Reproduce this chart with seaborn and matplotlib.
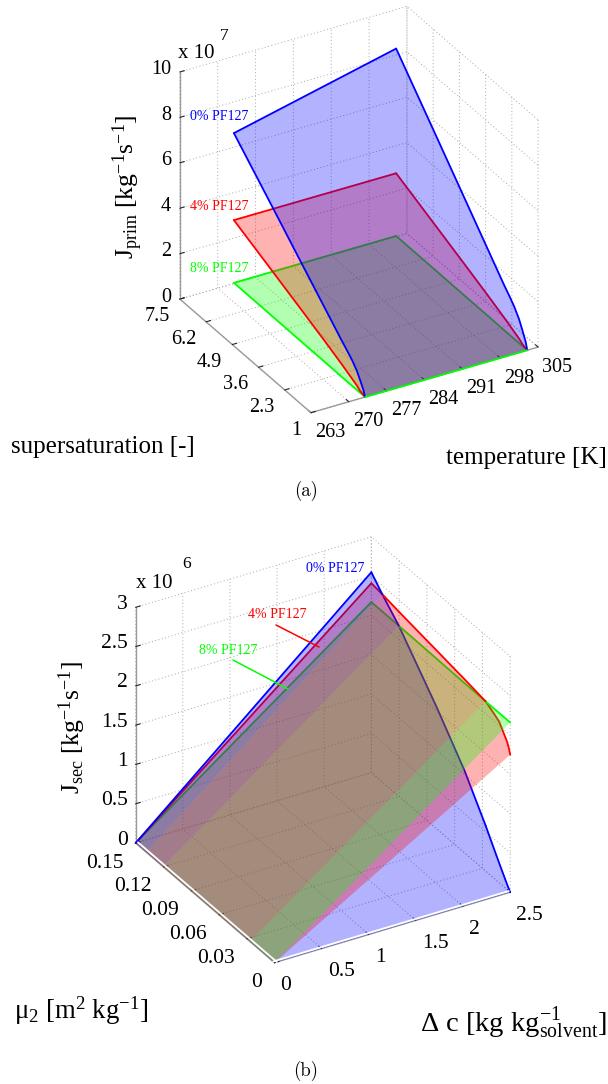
import matplotlib
matplotlib.use("Agg")
import matplotlib.pyplot as plt
import numpy as np
import seaborn as sns
from matplotlib.lines import Line2D
from mpl_toolkits.mplot3d import proj3d
from mpl_toolkits.mplot3d.art3d import Poly3DCollection

sns.set_theme(style="white")
plt.rcParams["font.family"] = ["Liberation Serif", "DejaVu Serif"]
plt.rcParams["mathtext.fontset"] = "custom"
plt.rcParams["mathtext.rm"] = "Liberation Serif"
plt.rcParams["mathtext.it"] = "Liberation Serif"
plt.rcParams["mathtext.bf"] = "Liberation Serif"
plt.rcParams["text.color"] = "black"

W, H = 608, 1084

# panel (a): primary nucleation, J in units of 1e7
temp_ends = [273, 303]
supersat = [1, 1.08, 1.24, 1.41, 1.66, 1.91, 2.16, 3.05, 4.05, 5.5, 7.5]
blue_273 = [0, 0.25, 0.55, 0.85, 1.15, 1.38, 1.60, 2.44, 3.38, 4.75, 6.62]
blue_303 = [0, 0.31, 0.69, 1.06, 1.44, 1.73, 2.00, 3.05, 4.23, 5.94, 8.28]
red_prim = [0, 0.03, 0.08, 0.20, 0.32, 0.44, 0.56, 0.95, 1.37, 1.97, 2.79]
green_prim = [0, 0, 0, 0, 0, 0, 0, 0.01, 0.01, 0.02, 0.03]
temp_ticks = [263, 270, 277, 284, 291, 298, 305]
ss_ticks = [1, 2.3, 3.6, 4.9, 6.2, 7.5]
jprim_ticks = [0, 2, 4, 6, 8, 10]

# panel (b): secondary nucleation, J at dc = 2.5 in units of 1e6
dc_ends = [0, 2.5]
mu2 = [0, 0.0015, 0.0033, 0.0119, 0.0195, 0.0266, 0.0495, 0.0795, 0.1203, 0.1383, 0.15]
blue_sec = [0, 0.03, 0.065, 0.25, 0.42, 0.58, 1.05, 1.55, 2.17, 2.39, 2.55]
red_sec = [1.75, 1.82, 1.88, 2.05, 2.11, 2.16, 2.21, 2.27, 2.35, 2.39, 2.41]
green_sec = [2.16, 2.16, 2.16, 2.16, 2.16, 2.16, 2.16, 2.165, 2.17, 2.17, 2.17]
dc_ticks = [0, 0.5, 1, 1.5, 2, 2.5]
mu_ticks = [0, 0.03, 0.06, 0.09, 0.12, 0.15]
jsec_ticks = [0, 0.5, 1, 1.5, 2, 2.5, 3]

BLUE, RED, GREEN = "#0000ff", "#ff0000", "#00ff00"
GREY = "#9a9a9a"
FILL_ALPHA = 0.3


def make_axes(fig, left, top, side, elev, azim):
    # position in pixels of the reference, y measured from the top
    ax = fig.add_axes([left / W, 1 - (top + side) / H, side / W, side / H],
                      projection="3d", proj_type="ortho", computed_zorder=False)
    ax.set_box_aspect((1, 1, 1))
    ax.view_init(elev=elev, azim=azim)
    ax.patch.set_alpha(0)
    for axis in (ax.xaxis, ax.yaxis, ax.zaxis):
        axis.set_pane_color((1, 1, 1, 0))
        axis.line.set_color(GREY)
        axis.line.set_linewidth(1.0)
        axis._axinfo["grid"].update(color="#a8a8a8", linewidth=0.7, linestyle=(0, (1, 2.5)))
        axis._axinfo["tick"]["color"] = GREY
        axis._axinfo["tick"]["inward_factor"] = 0
        axis._axinfo["tick"]["outward_factor"] = 0.25
        axis._axinfo["tick"]["linewidth"] = {True: 0.8, False: 0.5}
    return ax


def tick_text(ax, x, y, z, s, offset, ha, size):
    # mplot3d only offers a pad along the tick, so the labels sit at a pixel offset from it
    px, py, _ = proj3d.proj_transform(x, y, z, ax.get_proj())
    ax.annotate(s, xy=(px, py), xytext=offset, textcoords="offset pixels", ha=ha, va="center",
                fontsize=size, color="black", annotation_clip=False)


def set_ticks(ax, xt, yt, zt, size, x_off, y_off, z_off):
    ax.set_xticks(xt)
    ax.set_yticks(yt)
    ax.set_zticks(zt)
    ax.set_xticklabels([])
    ax.set_yticklabels([])
    ax.set_zticklabels([])
    x0, y0, z0 = ax.get_xlim()[0], ax.get_ylim()[0], ax.get_zlim()[0]
    y1 = ax.get_ylim()[1]
    for v in xt:
        tick_text(ax, v, y0, z0, str(v), x_off, "left", size)
    for v in yt:
        tick_text(ax, x0, v, z0, str(v), y_off, "right", size)
    for v in zt:
        tick_text(ax, x0, y1, v, str(v), z_off, "right", size)


def add_fill(ax, verts, color, zorder):
    poly = Poly3DCollection([verts], facecolor=color, edgecolor="none", alpha=FILL_ALPHA, zorder=zorder)
    ax.add_collection3d(poly, autolim=False)


def add_text(fig, x, y, s, **kw):
    kw.setdefault("va", "center")
    fig.text(x / W, 1 - y / H, s, **kw)


def add_leader(fig, x0, y0, x1, y1, color):
    fig.add_artist(Line2D([x0 / W, x1 / W], [1 - y0 / H, 1 - y1 / H], color=color, lw=1.1,
                          transform=fig.transFigure, zorder=8))


fig = plt.figure(figsize=(W / 100, H / 100), dpi=100, facecolor="white")

# ---- panel (a)
ax_a = make_axes(fig, 132.5, -5, 441, 30, 240)
ax_a.set_xlim(263, 305)
ax_a.set_ylim(1, 7.5)
ax_a.set_zlim(0, 10)
set_ticks(ax_a, temp_ticks, ss_ticks, jprim_ticks, 14.5, (4, -20), (-10, -17.5), (-8.6, 2))

surfaces_a = [(green_prim, green_prim, GREEN, 1), (red_prim, red_prim, RED, 2), (blue_273, blue_303, BLUE, 3)]
for z_left, z_right, col, rank in surfaces_a:
    verts = [(temp_ends[0], s, z) for s, z in zip(supersat, z_left)]
    verts += [(temp_ends[1], s, z) for s, z in zip(supersat[::-1], z_right[::-1])]
    add_fill(ax_a, verts, col, rank)
    line_kw = dict(color=col, lw=1.3, zorder=rank + 0.5)
    ax_a.plot([temp_ends[0]] * len(supersat), supersat, z_left, **line_kw)
    ax_a.plot([temp_ends[1]] * len(supersat), supersat, z_right, **line_kw)
    ax_a.plot(temp_ends, [supersat[-1]] * 2, [z_left[-1], z_right[-1]], **line_kw)
ax_a.plot(temp_ends, [supersat[0]] * 2, [0, 0], color=GREEN, lw=1.3, zorder=5)

add_text(fig, 178, 53, "x 10", fontsize=15)
add_text(fig, 220, 36, "7", fontsize=12.5)
add_text(fig, 128, 187, r"J$_{\mathrm{prim}}$ [kg$^{-1}$s$^{-1}$]", fontsize=18.5, rotation=90, ha="center")
add_text(fig, 11, 447, "supersaturation [-]", fontsize=18, ha="left")
add_text(fig, 607, 458, "temperature [K]", fontsize=18, ha="right")
add_text(fig, 219, 117, "0% PF127", fontsize=10, color=BLUE, ha="center")
add_text(fig, 219, 206, "4% PF127", fontsize=10, color=RED, ha="center")
add_text(fig, 219, 268, "8% PF127", fontsize=10, color=GREEN, ha="center")
add_text(fig, 306, 491, "(a)", fontsize=13.5, family="cmr10", ha="center")

# ---- panel (b)
ax_b = make_axes(fig, 86.7, 526, 460, 30.5, 239.5)
ax_b.set_xlim(0, 2.5)
ax_b.set_ylim(0, 0.15)
ax_b.set_zlim(0, 3)
set_ticks(ax_b, dc_ticks, mu_ticks, jsec_ticks, 15.5, (6, -23), (-12, -20), (-8, 3))

# the surfaces cross each other, so each stretch in mu is stacked by its height
series_b = [(blue_sec, BLUE), (red_sec, RED), (green_sec, GREEN)]
strip_ranks = []
for i in range(len(mu2) - 1):
    heights = [vals[i] + vals[i + 1] for vals, _ in series_b]
    strip_ranks.append(tuple(int(r) + 1 for r in np.argsort(np.argsort(heights))))

start = 0
for i in range(len(strip_ranks)):
    if i + 1 < len(strip_ranks) and strip_ranks[i + 1] == strip_ranks[start]:
        continue
    for k, (vals, col) in enumerate(series_b):
        rank = strip_ranks[start][k]
        verts = [(dc_ends[0], mu2[start], 0)]
        verts += [(dc_ends[1], mu2[j], vals[j]) for j in range(start, i + 2)]
        verts += [(dc_ends[0], mu2[i + 1], 0)]
        add_fill(ax_b, verts, col, rank)
        ax_b.plot([dc_ends[1]] * (i + 2 - start), mu2[start:i + 2], vals[start:i + 2],
                  color=col, lw=1.3, zorder=rank + 0.5)
    start = i + 1

for k, (vals, col) in enumerate(series_b):
    ax_b.plot(dc_ends, [mu2[-1]] * 2, [0, vals[-1]], color=col, lw=1.3, zorder=strip_ranks[-1][k] + 0.5)
ax_b.plot(dc_ends, [0.0015, 0.0015], [0, 0], color="white", lw=1.3, zorder=6)
ax_b.plot([0.025, 0.025], [0, 0.15], [0, 0], color="white", lw=1.3, zorder=6)

add_text(fig, 136, 583, "x 10", fontsize=15)
add_text(fig, 182, 564, "6", fontsize=12.5)
add_text(fig, 72, 727, r"J$_{\mathrm{sec}}$ [kg$^{-1}$s$^{-1}$]", fontsize=18.5, rotation=90, ha="center")
add_text(fig, 14, 1011, r"μ$_{2}$ [m$^{2}$ kg$^{-1}$]", fontsize=19.3, ha="left")
add_text(fig, 607, 1024, r"$\Delta$ c [kg kg$_{\mathrm{solvent}}^{-1}$]", fontsize=20.5, ha="right")
add_text(fig, 335, 568, "0% PF127", fontsize=10, color=BLUE, ha="center")
add_text(fig, 277, 615, "4% PF127", fontsize=10, color=RED, ha="center")
add_text(fig, 228, 650, "8% PF127", fontsize=10, color=GREEN, ha="center")
add_leader(fig, 276, 625, 319, 647, RED)
add_leader(fig, 233, 660, 288, 689, GREEN)
add_text(fig, 306, 1071, "(b)", fontsize=13.5, family="cmr10", ha="center")

fig.savefig("out.png", dpi=100)
